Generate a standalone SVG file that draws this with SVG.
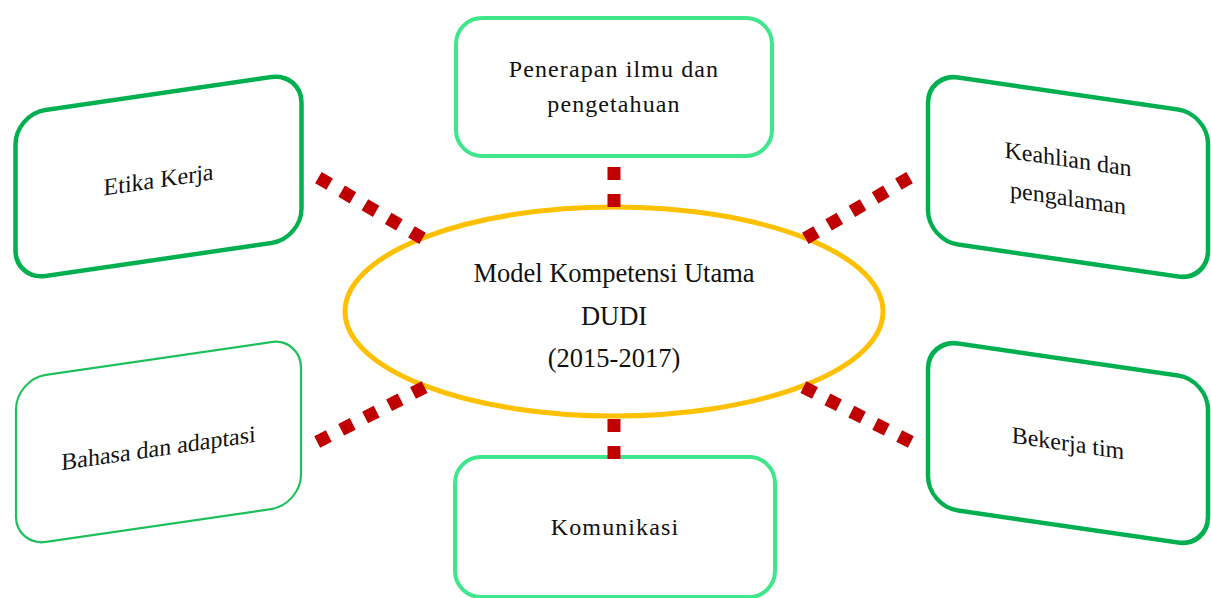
<svg xmlns="http://www.w3.org/2000/svg" width="1211" height="598" viewBox="0 0 1211 598">
  <style>
    .lbl { font-family: "Liberation Serif", "Times New Roman", serif; fill: #111; text-anchor: middle; }
    .core { font-size: 26.5px; }
    .side { font-size: 24px; }
    .flat { font-size: 24px; letter-spacing: 1.1px; }
    .box-light { fill: #fff; stroke: #40E68C; stroke-width: 4; }
    .box-dark { fill: #fff; stroke: #00B050; stroke-width: 4.5; }
    .box-thin { fill: #fff; stroke: #1FBF5C; stroke-width: 2.2; }
    .link { stroke: #C00000; stroke-width: 13; stroke-dasharray: 13 13.9; fill: none; stroke-linecap: butt; }
  </style>

  <rect width="1211" height="598" fill="#fff"/>

  <!-- central competency model -->
  <g id="core">
    <ellipse cx="614" cy="311.5" rx="269" ry="104.5" fill="#fff" stroke="#FFC000" stroke-width="5"/>
    <text class="lbl core" x="614" y="282">Model Kompetensi Utama</text>
    <text class="lbl core" x="614" y="325">DUDI</text>
    <text class="lbl core" x="614" y="367">(2015-2017)</text>
  </g>

  <!-- top -->
  <g id="penerapan">
    <rect class="box-light" x="456" y="18" width="316" height="138" rx="26" ry="26"/>
    <text class="lbl flat" x="614" y="77">Penerapan ilmu dan</text>
    <text class="lbl flat" x="614" y="112">pengetahuan</text>
  </g>

  <!-- bottom -->
  <g id="komunikasi">
    <rect class="box-light" x="455" y="457" width="320" height="140" rx="26" ry="26"/>
    <text class="lbl flat" x="615" y="535">Komunikasi</text>
  </g>

  <!-- upper left -->
  <g id="etika" transform="translate(158.5 176.5) skewY(-8.3)">
    <rect class="box-dark" x="-143" y="-83" width="286" height="166" rx="30" ry="30"/>
    <text class="lbl side" x="0" y="11">Etika Kerja</text>
  </g>

  <!-- lower left -->
  <g id="bahasa" transform="translate(158.5 442) skewY(-8.3)">
    <rect class="box-thin" x="-142.5" y="-83.5" width="285" height="167" rx="30" ry="30"/>
    <text class="lbl side" x="0" y="14">Bahasa dan adaptasi</text>
  </g>

  <!-- upper right -->
  <g id="keahlian" transform="translate(1068 177) skewY(8.3)">
    <rect class="box-dark" x="-140" y="-83.5" width="280" height="167" rx="30" ry="30"/>
    <text class="lbl side" x="0" y="-10">Keahlian dan</text>
    <text class="lbl side" x="0" y="29">pengalaman</text>
  </g>

  <!-- lower right -->
  <g id="bekerja" transform="translate(1068 443) skewY(8.3)">
    <rect class="box-dark" x="-140" y="-83.5" width="280" height="167" rx="30" ry="30"/>
    <text class="lbl side" x="0" y="8">Bekerja tim</text>
  </g>

  <!-- dotted links from the model to each competency -->
  <g id="connectors">
    <line class="link" x1="614" y1="167" x2="614" y2="207"/>
    <line class="link" x1="614" y1="419" x2="614" y2="459"/>
    <line class="link" x1="318.4" y1="177.7" x2="422.6" y2="238.3"/>
    <line class="link" x1="909.6" y1="177.7" x2="805.4" y2="238.3"/>
    <line class="link" x1="317.2" y1="442" x2="424.8" y2="387"/>
    <line class="link" x1="910.8" y1="442" x2="803.2" y2="387"/>
  </g>
</svg>
